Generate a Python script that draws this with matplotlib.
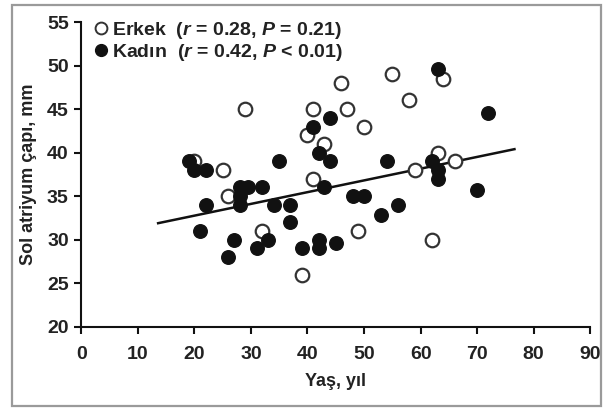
import matplotlib
matplotlib.use("Agg")
import matplotlib.pyplot as plt
from matplotlib.patches import Rectangle
from matplotlib.lines import Line2D

plt.rcParams['font.family'] = ['Liberation Sans', 'DejaVu Sans']
plt.rcParams['font.weight'] = 'bold'
plt.rcParams['mathtext.fontset'] = 'custom'
plt.rcParams['mathtext.it'] = 'Liberation Sans:italic:bold'
plt.rcParams['mathtext.rm'] = 'Liberation Sans:bold'

# Erkek (open circles): age, left atrial diameter
erkek_age = [20, 25, 26, 29, 32, 39, 40, 41, 41, 43, 46, 47, 49, 50, 55, 58, 59, 62, 63, 64, 66]
erkek_la = [39, 38, 35, 45, 31, 26, 42, 45, 37, 41, 48, 45, 31, 43, 49, 46, 38, 30, 40, 48.5, 39]

# Kadin (filled circles)
kadin_age = [19, 20, 22, 22, 21, 26, 27, 28, 29.5, 28, 28, 31, 32, 33, 34, 35, 37, 37, 39,
             41, 42, 42, 42, 43, 44, 44, 45, 48, 50, 53, 54, 56, 62, 63, 63, 63, 70, 72]
kadin_la = [39, 38, 38, 34, 31, 28, 30, 36, 36, 35, 34, 29, 36, 30, 34, 39, 34, 32, 29,
            43, 40, 29, 30, 36, 44, 39, 29.6, 35, 35, 32.8, 39, 34, 39, 38, 37, 49.6, 35.7, 44.5]

# regression line ends
fit_age = [13.6, 76.6]
fit_la = [31.9, 40.4]

fig = plt.figure(figsize=(6.06, 4.08), dpi=100)
ax = fig.add_axes([0.134, 0.199, 0.840, 0.747])

# gray frame round the whole picture
fig.patches.append(Rectangle((0.02, 0.005), 0.972, 0.983, transform=fig.transFigure,
                             fill=False, edgecolor='#9a9a9a', linewidth=1.6))

ax.plot(fit_age, fit_la, color='#111111', linewidth=1.8, zorder=2)
ax.scatter(erkek_age, erkek_la, s=95, facecolor='white', edgecolor='#333333',
           linewidth=1.6, zorder=3)
ax.scatter(kadin_age, kadin_la, s=95, facecolor='#111111', edgecolor='#111111',
           linewidth=1.0, zorder=4)

ax.set_xlim(0, 90)
ax.set_ylim(20, 55)
ax.set_xticks(range(0, 91, 10))
ax.set_yticks(range(20, 56, 5))
for s in ['top', 'right']:
    ax.spines[s].set_visible(False)
for s in ['left', 'bottom']:
    ax.spines[s].set_linewidth(1.5)
    ax.spines[s].set_color('#111111')
ax.tick_params(direction='out', length=5, width=1.5, labelsize=14, color='#111111',
               labelcolor='#222222')
ax.tick_params(axis='x', pad=9)
ax.tick_params(axis='y', pad=4)

ax.set_xlabel('Yaş, yıl', fontsize=13, fontweight='bold', color='#222222', labelpad=7)
ax.set_ylabel('Sol atriyum çapı, mm', fontsize=13, fontweight='bold', color='#222222', labelpad=7)

handles = [
    Line2D([], [], marker='o', linestyle='none', markersize=8.5, markerfacecolor='white',
           markeredgecolor='#333333', markeredgewidth=1.4),
    Line2D([], [], marker='o', linestyle='none', markersize=8.5, markerfacecolor='#111111',
           markeredgecolor='#111111'),
]
labels = [r'Erkek  ($r$ = 0.28, $P$ = 0.21)', r'Kadın  ($r$ = 0.42, $P$ < 0.01)']
leg = ax.legend(handles, labels, loc='upper left', bbox_to_anchor=(0.0, 1.045), frameon=False,
                prop={'size': 14, 'weight': 'bold'}, handletextpad=0.2, labelspacing=0.05,
                borderaxespad=0.2, handlelength=0.8)
for t in leg.get_texts():
    t.set_color('#222222')

fig.savefig('out.png', dpi=100)
